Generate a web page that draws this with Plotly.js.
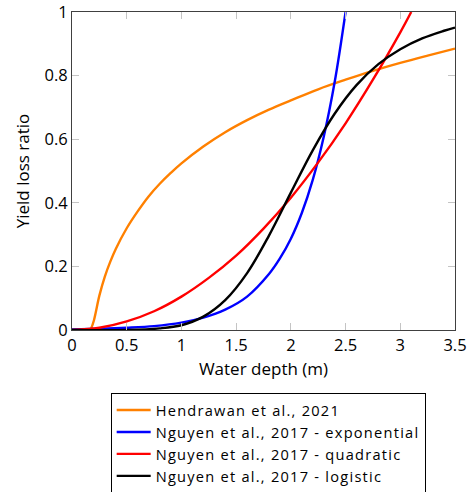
<!DOCTYPE html>
<html>
<head>
<meta charset="utf-8">
<script src="https://cdn.plot.ly/plotly-3.0.1.min.js"></script>
<style>
  html, body { margin: 0; padding: 0; background: #fff; }
  #chart { width: 473px; height: 492px; }
  .legendtext { letter-spacing: 1.25px; }
</style>
</head>
<body>
<div id="chart"></div>
<script>
// Yield loss ratio versus water depth for four damage functions

// Hendrawan et al., 2021
const depthHendrawan = [0.17, 0.20, 0.25, 0.30, 0.35, 0.40, 0.50, 0.60, 0.70, 0.80, 0.90, 1.00, 1.20, 1.40, 1.60, 1.80, 2.00, 2.25, 2.50, 2.75, 3.00, 3.25, 3.50];
const lossHendrawan  = [0.000, 0.030, 0.108, 0.168, 0.215, 0.255, 0.320, 0.373, 0.420, 0.459, 0.493, 0.524, 0.577, 0.622, 0.660, 0.693, 0.722, 0.757, 0.787, 0.815, 0.840, 0.863, 0.885];

// Nguyen et al., 2017 - exponential
const depthExponential = [0.00, 0.25, 0.50, 0.75, 1.00, 1.20, 1.40, 1.60, 1.80, 1.90, 2.00, 2.10, 2.20, 2.30, 2.40, 2.50];
const lossExponential  = [0.002, 0.004, 0.007, 0.012, 0.023, 0.039, 0.064, 0.105, 0.176, 0.225, 0.287, 0.368, 0.472, 0.607, 0.779, 1.000];

// Nguyen et al., 2017 - quadratic
const depthQuadratic = [0.00, 0.25, 0.50, 0.75, 1.00, 1.25, 1.50, 1.75, 2.00, 2.25, 2.50, 2.75, 3.00, 3.10];
const lossQuadratic  = [0.000, 0.007, 0.027, 0.059, 0.105, 0.164, 0.234, 0.319, 0.416, 0.527, 0.650, 0.787, 0.936, 1.000];

// Nguyen et al., 2017 - logistic
const depthLogistic = [0.00, 0.50, 0.80, 1.00, 1.20, 1.40, 1.60, 1.80, 2.00, 2.20, 2.40, 2.60, 2.80, 3.00, 3.20, 3.40, 3.50];
const lossLogistic  = [0.000, 0.000, 0.005, 0.015, 0.042, 0.094, 0.179, 0.297, 0.432, 0.565, 0.680, 0.770, 0.836, 0.883, 0.917, 0.941, 0.951];

const seriesNames = [
  'Hendrawan et al., 2021',
  'Nguyen et al., 2017 - exponential',
  'Nguyen et al., 2017 - quadratic',
  'Nguyen et al., 2017 - logistic'
];

const xTickVals = [0, 0.5, 1, 1.5, 2, 2.5, 3, 3.5];
const yTickVals = [0, 0.2, 0.4, 0.6, 0.8, 1];

const FONT = '"Open Sans", "Liberation Sans", sans-serif';

function curve(x, y, name, color) {
  return {
    x: x, y: y, name: name, type: 'scatter', mode: 'lines',
    line: { color: color, width: 2.4, shape: 'spline', smoothing: 1 }
  };
}

const traces = [
  curve(depthHendrawan, lossHendrawan, seriesNames[0], '#ff8000'),
  curve(depthExponential, lossExponential, seriesNames[1], '#0000ff'),
  curve(depthQuadratic, lossQuadratic, seriesNames[2], '#ff0000'),
  curve(depthLogistic, lossLogistic, seriesNames[3], '#000000')
];

const axisCommon = {
  showgrid: false, zeroline: false,
  showline: true, linecolor: '#404040', linewidth: 1, mirror: 'ticks',
  ticks: 'inside', ticklen: 7, tickwidth: 1, tickcolor: '#c4c4c4',
  ticklabeloverflow: 'allow',
  tickfont: { family: FONT, size: 16.5, color: '#000' }
};

const layout = {
  width: 473, height: 492,
  paper_bgcolor: '#fff', plot_bgcolor: '#fff',
  margin: { l: 72, r: 18, t: 12, b: 162, autoexpand: false },
  font: { family: FONT, color: '#000' },
  showlegend: true,
  legend: {
    x: 0.101, xanchor: 'left', y: -0.198, yanchor: 'top',
    bgcolor: '#fff', bordercolor: '#000', borderwidth: 1,
    font: { family: FONT, size: 14.6, color: '#000' },
    itemwidth: 34,
    tracegroupgap: 0
  },
  xaxis: Object.assign({}, axisCommon, {
    range: [0, 3.5], tickvals: xTickVals,
    title: { text: 'Water depth (m)', font: { family: FONT, size: 17, color: '#000' }, standoff: 8 }
  }),
  yaxis: Object.assign({}, axisCommon, {
    range: [0, 1], tickvals: yTickVals,
    title: { text: 'Yield loss ratio', font: { family: FONT, size: 17, color: '#000' }, standoff: 10 }
  })
};

Plotly.newPlot('chart', traces, layout, { displayModeBar: false, staticPlot: true });
</script>
</body>
</html>
